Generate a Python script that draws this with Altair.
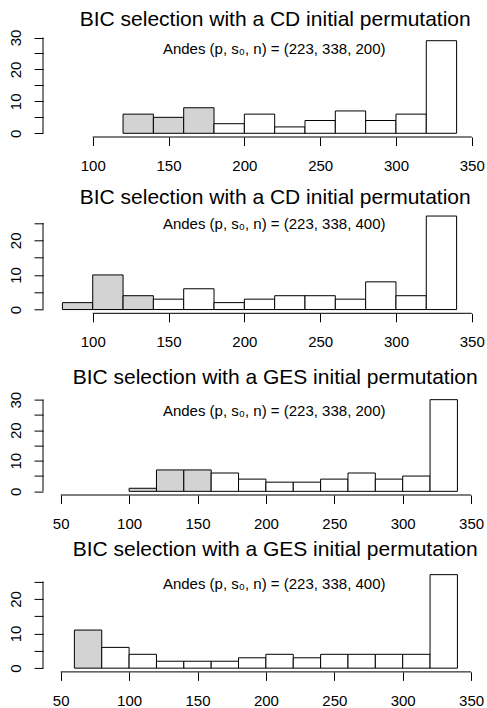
import altair as alt
import pandas as pd

FONT = "Liberation Sans"
BIN_WIDTH = 20

titles = [
    "BIC selection with a CD initial permutation",
    "BIC selection with a CD initial permutation",
    "BIC selection with a GES initial permutation",
    "BIC selection with a GES initial permutation",
]
notes = [
    "Andes (p, s\u2080, n)  =  (223, 338, 200)",
    "Andes (p, s\u2080, n)  =  (223, 338, 400)",
    "Andes (p, s\u2080, n)  =  (223, 338, 200)",
    "Andes (p, s\u2080, n)  =  (223, 338, 400)",
]

# histogram bins (left edges), counts, shaded flags
cd200_left = [120, 140, 160, 180, 200, 220, 240, 260, 280, 300, 320]
cd200_counts = [6, 5, 8, 3, 6, 2, 4, 7, 4, 6, 29]
cd200_shaded = [1, 1, 1, 0, 0, 0, 0, 0, 0, 0, 0]

cd400_left = [80, 100, 120, 140, 160, 180, 200, 220, 240, 260, 280, 300, 320]
cd400_counts = [2, 10, 4, 3, 6, 2, 3, 4, 4, 3, 8, 4, 27]
cd400_shaded = [1, 1, 1, 0, 0, 0, 0, 0, 0, 0, 0, 0, 0]

ges200_left = [100, 120, 140, 160, 180, 200, 220, 240, 260, 280, 300, 320]
ges200_counts = [1, 7, 7, 6, 4, 3, 3, 4, 6, 4, 5, 30]
ges200_shaded = [1, 1, 1, 0, 0, 0, 0, 0, 0, 0, 0, 0]

ges400_left = [60, 80, 100, 120, 140, 160, 180, 200, 220, 240, 260, 280, 300, 320]
ges400_counts = [11, 6, 4, 2, 2, 2, 3, 4, 3, 4, 4, 4, 4, 27]
ges400_shaded = [1, 0, 0, 0, 0, 0, 0, 0, 0, 0, 0, 0, 0, 0]

cd_xticks = [100, 150, 200, 250, 300, 350]
ges_xticks = [50, 100, 150, 200, 250, 300, 350]
yticks30 = [0, 5, 10, 15, 20, 25, 30]
yticks25 = [0, 5, 10, 15, 20, 25]

W = 440
CENTER = 232.2
cd_xdom = [67.2, 357.4]
ges_xdom = [37.06, 358.7]


def panel(title, note, left, counts, shaded, xticks, yticks, xdom, ydom,
          h, top_gap, title_gap, note_y):
    df = pd.DataFrame({
        "lo": left,
        "hi": [v + BIN_WIDTH for v in left],
        "count": counts,
        "base": [0] * len(left),
        "kind": ["shaded" if s else "plain" for s in shaded],
    })
    vh = h + top_gap
    xscale = alt.Scale(domain=xdom, nice=False, zero=False)
    yscale = alt.Scale(domain=ydom, nice=False, zero=False, range=[vh, top_gap])
    xaxis = alt.Axis(values=xticks, domain=False, grid=False, title=None,
                     tickSize=8.5, tickColor="black", tickWidth=1,
                     labelPadding=13, labelFontSize=15, labelFont=FONT,
                     labelColor="black", labelFlush=False, labelOverlap=False)
    yaxis = alt.Axis(values=yticks, domain=False, grid=False, title=None,
                     tickSize=9, tickColor="black", tickWidth=1,
                     labelPadding=14, labelFontSize=15, labelFont=FONT,
                     labelColor="black", labelAngle=270, labelAlign="center",
                     labelBaseline="alphabetic", labelOverlap=False,
                     labelExpr="datum.value % 10 == 0 ? datum.label : ''")
    bars = alt.Chart(df).mark_bar(stroke="black", strokeWidth=1).encode(
        x=alt.X("lo:Q", scale=xscale, axis=xaxis),
        x2="hi:Q",
        y=alt.Y("count:Q", scale=yscale, axis=yaxis),
        y2="base:Q",
        fill=alt.Fill("kind:N", scale=alt.Scale(domain=["shaded", "plain"],
                                                range=["#d3d3d3", "#ffffff"]),
                      legend=None),
    )
    xline = alt.Chart(pd.DataFrame({"lo": [xticks[0]], "hi": [xticks[-1]]})).mark_rule(
        color="black", strokeWidth=1).encode(
        x=alt.X("lo:Q", scale=xscale, axis=xaxis), x2="hi:Q", y=alt.value(vh))
    yline = alt.Chart(pd.DataFrame({"count": [yticks[0]], "base": [yticks[-1]]})).mark_rule(
        color="black", strokeWidth=1).encode(
        y=alt.Y("count:Q", scale=yscale, axis=yaxis), y2="base:Q", x=alt.value(0))
    text = alt.Chart(pd.DataFrame({"t": [note]})).mark_text(
        font=FONT, fontSize=15, color="black", align="center",
        baseline="middle").encode(
        text="t:N", x=alt.value(CENTER - 1), y=alt.value(top_gap + note_y))
    head = alt.Chart(pd.DataFrame({"t": [title]})).mark_text(
        font=FONT, fontSize=21, color="black", align="center",
        baseline="alphabetic").encode(
        text="t:N", x=alt.value(CENTER), y=alt.value(top_gap - title_gap))
    return alt.layer(bars, xline, yline, text, head).properties(
        width=W, height=vh)


p1 = panel(titles[0], notes[0], cd200_left, cd200_counts, cd200_shaded,
           cd_xticks, yticks30, cd_xdom, [-1.16, 30.16], 100, 0, 11.2, 12)
p2 = panel(titles[1], notes[1], cd400_left, cd400_counts, cd400_shaded,
           cd_xticks, yticks25, cd_xdom, [-1.08, 28.08], 101, 0, 8.5, 12)
p3 = panel(titles[2], notes[2], ges200_left, ges200_counts, ges200_shaded,
           ges_xticks, yticks30, ges_xdom, [-1.2, 31.2], 99, 7.4, 12.3, 15)
p4 = panel(titles[3], notes[3], ges400_left, ges400_counts, ges400_shaded,
           ges_xticks, yticks25, ges_xdom, [-1.08, 28.08], 101, 0, 15.4, 13)

chart = alt.vconcat(p1, p2, p3, p4, spacing=75.3, bounds="flush").properties(
    padding={"left": 7, "top": 8, "right": 0, "bottom": 0},
    background="white",
).configure_view(stroke=None)

chart.save("out.html", embed_options={"renderer": "svg", "actions": False})
